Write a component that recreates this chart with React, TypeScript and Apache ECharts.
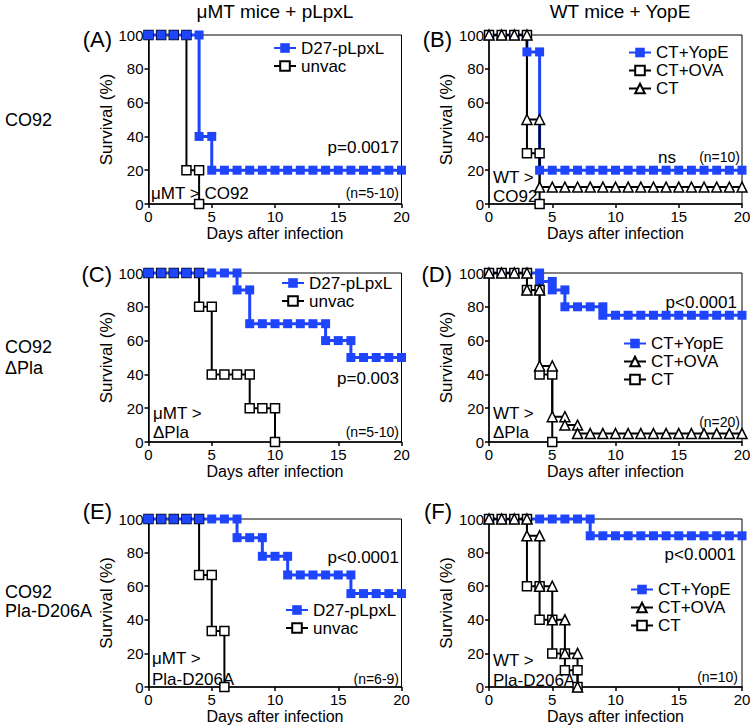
import React, { useEffect, useRef } from 'react';
import * as echarts from 'echarts';

// ---------- data: survival (%) at end of each day (index = day) ----------
const DAY_TICKS = [0, 5, 10, 15, 20];
const SURV_TICKS = [0, 20, 40, 60, 80, 100];

const A_D27 = [100, 100, 100, 100, 40, 20, 20, 20, 20, 20, 20, 20, 20, 20, 20, 20, 20, 20, 20, 20, 20];
const A_UNVAC = [100, 100, 100, 20, 0];

const B_YOPE = [100, 100, 100, 90, 20, 20, 20, 20, 20, 20, 20, 20, 20, 20, 20, 20, 20, 20, 20, 20, 20];
const B_OVA = [100, 100, 100, 30, 0];
const B_CT = [100, 100, 100, 50, 10, 10, 10, 10, 10, 10, 10, 10, 10, 10, 10, 10, 10, 10, 10, 10, 10];

const C_D27 = [100, 100, 100, 100, 100, 100, 100, 90, 70, 70, 70, 70, 70, 70, 60, 60, 50, 50, 50, 50, 50];
const C_UNVAC = [100, 100, 100, 100, 80, 40, 40, 40, 20, 20, 0];

const D_YOPE = [100, 100, 100, 100, 95, 90, 80, 80, 80, 75, 75, 75, 75, 75, 75, 75, 75, 75, 75, 75, 75];
const D_OVA = [100, 100, 100, 90, 45, 15, 10, 5, 5, 5, 5, 5, 5, 5, 5, 5, 5, 5, 5, 5, 5];
const D_CT = [100, 100, 100, 90, 40, 0];

const E_D27 = [100, 100, 100, 100, 100, 100, 100, 88.9, 88.9, 77.8, 77.8, 66.7, 66.7, 66.7, 66.7, 66.7, 55.6, 55.6, 55.6, 55.6, 55.6];
const E_UNVAC = [100, 100, 100, 100, 66.7, 33.3, 0];

const F_YOPE = [100, 100, 100, 100, 100, 100, 100, 100, 90, 90, 90, 90, 90, 90, 90, 90, 90, 90, 90, 90, 90];
const F_OVA = [100, 100, 100, 90, 60, 40, 20, 0];
const F_CT = [100, 100, 100, 60, 40, 20, 10, 0];

const COL_TITLES = ['\u03bcMT mice + pLpxL', 'WT mice + YopE'];

// ---------- styling ----------
const FONT = "'Liberation Sans', Arial, Helvetica, sans-serif";
const BLUE = '#1f45fc';

function stairs(vals: number[]): number[][] {
  const pts: number[][] = [];
  vals.forEach((v, d) => {
    if (d > 0 && vals[d - 1] !== v) pts.push([d, vals[d - 1]]);
    pts.push([d, v]);
  });
  return pts;
}

function styleFor(kind: string) {
  if (kind === 'blue') {
    return {
      symbol: 'rect',
      symbolSize: 9,
      itemStyle: { color: BLUE },
      lineStyle: { color: BLUE, width: 3 },
    };
  }
  return {
    symbol: kind === 'sq' ? 'rect' : 'triangle',
    symbolSize: kind === 'sq' ? 9 : 10,
    itemStyle: { color: '#ffffff', borderColor: '#000000', borderWidth: 1.5 },
    lineStyle: { color: '#000000', width: 2 },
  };
}

const PANELS = [
  { key: 'A', left: 148.5, top: 35, height: 169,
    series: [['unvac', A_UNVAC, 'sq'], ['D27-pLpxL', A_D27, 'blue']],
    legend: ['D27-pLpxL', 'unvac'], lg: { left: 273, top: 39.5 } },
  { key: 'B', left: 489, top: 35, height: 169,
    series: [['CT+YopE', B_YOPE, 'blue'], ['CT+OVA', B_OVA, 'sq'], ['CT', B_CT, 'tri']],
    legend: ['CT+YopE', 'CT+OVA', 'CT'], lg: { left: 628, top: 44 } },
  { key: 'C', left: 148.5, top: 273, height: 169,
    series: [['unvac', C_UNVAC, 'sq'], ['D27-pLpxL', C_D27, 'blue']],
    legend: ['D27-pLpxL', 'unvac'], lg: { left: 281, top: 274.5 } },
  { key: 'D', left: 489, top: 273, height: 169,
    series: [['CT+YopE', D_YOPE, 'blue'], ['CT', D_CT, 'sq'], ['CT+OVA', D_OVA, 'tri']],
    legend: ['CT+YopE', 'CT+OVA', 'CT'], lg: { left: 623, top: 335 } },
  { key: 'E', left: 148.5, top: 519, height: 168,
    series: [['unvac', E_UNVAC, 'sq'], ['D27-pLpxL', E_D27, 'blue']],
    legend: ['D27-pLpxL', 'unvac'], lg: { left: 285, top: 601.5 } },
  { key: 'F', left: 489, top: 519, height: 168,
    series: [['CT+YopE', F_YOPE, 'blue'], ['CT', F_CT, 'sq'], ['CT+OVA', F_OVA, 'tri']],
    legend: ['CT+YopE', 'CT+OVA', 'CT'], lg: { left: 630, top: 581 } },
];

const PLOT_W = 253;

type T = { t: string; x: number; y: number; size: number; align?: string };
const TEXTS: T[] = [
  { t: COL_TITLES[0], x: 275, y: 11, size: 19, align: 'center' },
  { t: COL_TITLES[1], x: 620, y: 11, size: 19, align: 'center' },
  // panel letters
  { t: '(A)', x: 112, y: 39, size: 22, align: 'right' },
  { t: '(B)', x: 452, y: 39, size: 22, align: 'right' },
  { t: '(C)', x: 112, y: 274, size: 22, align: 'right' },
  { t: '(D)', x: 452, y: 274, size: 22, align: 'right' },
  { t: '(E)', x: 112, y: 511, size: 22, align: 'right' },
  { t: '(F)', x: 452, y: 511, size: 22, align: 'right' },
  // row labels
  { t: 'CO92', x: 5, y: 120, size: 18 },
  { t: 'CO92', x: 5, y: 347, size: 18 },
  { t: '\u0394Pla', x: 5, y: 368, size: 18 },
  { t: 'CO92', x: 5, y: 592, size: 18 },
  { t: 'Pla-D206A', x: 5, y: 611, size: 18 },
  // panel A
  { t: 'p=0.0017', x: 399, y: 147, size: 17, align: 'right' },
  { t: '(n=5-10)', x: 399, y: 193, size: 14, align: 'right' },
  { t: '\u03bcMT > CO92', x: 151, y: 193, size: 17 },
  // panel B
  { t: 'ns', x: 667, y: 157, size: 17, align: 'center' },
  { t: '(n=10)', x: 740, y: 157, size: 14, align: 'right' },
  { t: 'WT >', x: 493, y: 177, size: 17 },
  { t: 'CO92', x: 493, y: 196, size: 17 },
  // panel C
  { t: 'p=0.003', x: 399, y: 378, size: 17, align: 'right' },
  { t: '(n=5-10)', x: 399, y: 432, size: 14, align: 'right' },
  { t: '\u03bcMT >', x: 153, y: 413, size: 17 },
  { t: '\u0394Pla', x: 153, y: 432, size: 17 },
  // panel D
  { t: 'p<0.0001', x: 737, y: 302, size: 17, align: 'right' },
  { t: '(n=20)', x: 740, y: 422, size: 14, align: 'right' },
  { t: 'WT >', x: 493, y: 413, size: 17 },
  { t: '\u0394Pla', x: 493, y: 432, size: 17 },
  // panel E
  { t: 'p<0.0001', x: 399, y: 557, size: 17, align: 'right' },
  { t: '(n=6-9)', x: 399, y: 679, size: 14, align: 'right' },
  { t: '\u03bcMT >', x: 152, y: 658, size: 17 },
  { t: 'Pla-D206A', x: 152, y: 679, size: 17 },
  // panel F
  { t: 'p<0.0001', x: 736, y: 554, size: 17, align: 'right' },
  { t: '(n=10)', x: 738, y: 677, size: 14, align: 'right' },
  { t: 'WT >', x: 493, y: 660, size: 17 },
  { t: 'Pla-D206A', x: 493, y: 680, size: 17 },
];

function buildOption() {
  const grid: any[] = [];
  const xAxis: any[] = [];
  const yAxis: any[] = [];
  const series: any[] = [];
  const legend: any[] = [];

  PANELS.forEach((p, i) => {
    grid.push({
      left: p.left, top: p.top, width: PLOT_W, height: p.height,
      show: true, borderColor: '#000', borderWidth: 1, backgroundColor: 'transparent',
      containLabel: false, outerBoundsMode: 'none',
    });
    xAxis.push({
      gridIndex: i, type: 'value', min: DAY_TICKS[0], max: DAY_TICKS[DAY_TICKS.length - 1], interval: 5,
      axisLine: { show: true, onZero: false, lineStyle: { color: '#000', width: 1.5 } },
      axisTick: { show: true, length: 4, lineStyle: { color: '#000', width: 1.5 } },
      axisLabel: { color: '#000', fontSize: 15, fontFamily: FONT, margin: 5 },
      splitLine: { show: false },
      name: 'Days after infection', nameLocation: 'middle', nameGap: 21,
      nameTextStyle: { color: '#000', fontSize: 16, fontFamily: FONT },
    });
    yAxis.push({
      gridIndex: i, type: 'value', min: SURV_TICKS[0], max: SURV_TICKS[SURV_TICKS.length - 1], interval: 20,
      axisLine: { show: true, onZero: false, lineStyle: { color: '#000', width: 1.5 } },
      axisTick: { show: true, length: 4, lineStyle: { color: '#000', width: 1.5 } },
      axisLabel: { color: '#000', fontSize: 15, fontFamily: FONT, margin: 5 },
      splitLine: { show: false },
      name: 'Survival (%)', nameLocation: 'middle', nameGap: 28,
      nameTextStyle: { color: '#000', fontSize: 17, fontFamily: FONT },
    });
    p.series.forEach(([name, vals, kind]: any) => {
      series.push({
        type: 'line',
        name: p.key + '|' + name,
        xAxisIndex: i, yAxisIndex: i,
        data: stairs(vals),
        clip: false,
        showSymbol: true, showAllSymbol: true,
        ...styleFor(kind),
      });
    });
    legend.push({
      data: p.legend.map((n) => p.key + '|' + n),
      orient: 'vertical',
      left: p.lg.left, top: p.lg.top,
      itemWidth: 22, itemHeight: 12, itemGap: 1,
      padding: 0,
      selectedMode: false,
      formatter: (n: string) => n.split('|')[1],
      textStyle: { color: '#000', fontSize: 17, fontFamily: FONT },
    });
  });

  const graphic = TEXTS.map((t) => ({
    type: 'text',
    x: t.x, y: t.y,
    silent: true,
    style: {
      text: t.t,
      fill: '#000',
      fontSize: t.size,
      fontFamily: FONT,
      textAlign: t.align || 'left',
      align: t.align || 'left',
      textVerticalAlign: 'middle',
      verticalAlign: 'middle',
    },
  }));

  return {
    animation: false,
    backgroundColor: '#ffffff',
    grid, xAxis, yAxis, series, legend, graphic,
  };
}

export default function App() {
  const ref = useRef<HTMLDivElement>(null);
  useEffect(() => {
    if (!ref.current) return;
    const chart = echarts.init(ref.current, null, { renderer: 'svg' });
    chart.setOption(buildOption() as any);
    return () => chart.dispose();
  }, []);
  return (
    <div
      ref={ref}
      style={{ position: 'fixed', left: 0, top: 0, width: 750, height: 726, background: '#fff' }}
    />
  );
}
